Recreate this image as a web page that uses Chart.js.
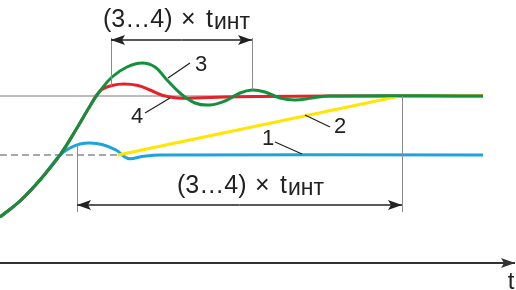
<!DOCTYPE html>
<html>
<head>
<meta charset="utf-8">
<script src="https://cdn.jsdelivr.net/npm/chart.js@4"></script>
<style>
    html, body { margin: 0; padding: 0; background: #fff; }
    #grafico { display: block; }
</style>
</head>
<body>
<canvas id="grafico" width="516" height="290"></canvas>
<script>
// Values: t (time) and output level, time axis at 0
const curva3 = [[0, 46], [20, 62], [40, 83], [60, 108], [77, 135], [90, 157], [100, 172], [112, 186],
    [127, 196], [142, 200], [155, 196], [167, 183], [180, 170], [195, 160], [210, 158], [225, 162],
    [240, 170], [252, 173], [265, 171], [280, 165], [295, 163], [312, 165], [330, 167], [483, 167]];
const curva4 = [[0, 46], [20, 62], [40, 83], [60, 108], [77, 135], [90, 157], [100, 172], [112, 177.5],
    [124, 179], [138, 177.5], [150, 173], [163, 167.5], [177, 165], [195, 165], [225, 166], [260, 166.5],
    [330, 167], [483, 167]];
const curva1 = [[0, 46], [20, 62], [40, 83], [60, 108], [70, 115], [80, 119], [90, 120], [102, 118.5],
    [116, 113], [128, 104.5], [142, 106.5], [160, 108], [483, 108]];
const curva2 = [[118, 108], [400, 167], [483, 167]];
const setpoint = [[0, 167], [483, 167]];
const nivelInicial = [[0, 108], [125, 108]];

const faixaSuperior = [111, 252];   // (3…4) × tинт, upper
const faixaInferior = [77, 402];    // (3…4) × tинт, lower

const FONTE = "'Liberation Sans', Arial, sans-serif";
const TINTA = '#222';

const pts = arr => arr.map(([x, y]) => ({ x, y }));

function seta(ctx, x1, y, x2, cab) {
    ctx.beginPath();
    ctx.moveTo(x1, y);
    ctx.lineTo(x2, y);
    ctx.stroke();
    const dir = Math.sign(x2 - x1);
    ctx.beginPath();
    ctx.moveTo(x2, y);
    ctx.lineTo(x2 - dir * cab, y - 5);
    ctx.lineTo(x2 - dir * (cab - 3), y);
    ctx.lineTo(x2 - dir * cab, y + 5);
    ctx.closePath();
    ctx.fill();
}

// "(3…4) × tинт", pieces placed apart like the original lettering
function rotulo(ctx, x, yBase) {
    ctx.textAlign = 'left';
    ctx.textBaseline = 'alphabetic';
    ctx.font = '25px ' + FONTE;
    ctx.fillText('(3…4)', x, yBase);
    ctx.fillText('×', x + 78, yBase);
    ctx.fillText('t', x + 103, yBase);
    ctx.font = '23px ' + FONTE;
    ctx.fillText('инт', x + 111, yBase + 2);
}

const anotacoes = {
    id: 'anotacoes',
    afterDatasetsDraw(chart) {
        const { ctx } = chart;
        const sx = v => chart.scales.x.getPixelForValue(v);
        const sy = v => chart.scales.y.getPixelForValue(v);
        ctx.save();

        // thin guide lines
        ctx.strokeStyle = '#8a8a8a';
        ctx.lineWidth = 1;
        [[77, 118, 51], [111, 225, 177], [252, 225, 173], [402, 167, 51]].forEach(([x, a, b]) => {
            ctx.beginPath();
            ctx.moveTo(Math.round(sx(x)) + 0.5, sy(a));
            ctx.lineTo(Math.round(sx(x)) + 0.5, sy(b));
            ctx.stroke();
        });

        // double arrows
        ctx.strokeStyle = TINTA;
        ctx.fillStyle = TINTA;
        ctx.lineWidth = 1.5;
        [[faixaSuperior, 223], [faixaInferior, 58]].forEach(([f, y]) => {
            const mid = (sx(f[0]) + sx(f[1])) / 2;
            seta(ctx, mid, sy(y), sx(f[0]), 14);
            seta(ctx, mid, sy(y), sx(f[1]), 14);
        });

        // time axis
        ctx.strokeStyle = '#333';
        ctx.fillStyle = '#333';
        ctx.lineWidth = 2;
        seta(ctx, sx(0), sy(0), sx(515), 14);

        // leader lines
        ctx.strokeStyle = TINTA;
        ctx.lineWidth = 1.3;
        [[168, 185, 190, 200], [145, 150, 170, 165], [305, 148, 330, 136], [275, 121, 302, 109]].forEach(([a, b, c, d]) => {
            ctx.beginPath();
            ctx.moveTo(sx(a), sy(b));
            ctx.lineTo(sx(c), sy(d));
            ctx.stroke();
        });

        // texts
        ctx.fillStyle = TINTA;
        ctx.font = '22px ' + FONTE;
        ctx.textAlign = 'center';
        ctx.textBaseline = 'middle';
        [['3', 201, 198], ['4', 137, 146], ['2', 340, 136], ['1', 268, 124]].forEach(([t, x, y]) => {
            ctx.fillText(t, sx(x), sy(y));
        });
        rotulo(ctx, sx(103), sy(236));
        rotulo(ctx, sx(177), sy(70));
        ctx.font = '24px ' + FONTE;
        ctx.textAlign = 'center';
        ctx.textBaseline = 'alphabetic';
        ctx.fillText('t', sx(511), sy(-26));

        ctx.restore();
    }
};

const linha = (dados, cor, largura, extra = {}) => Object.assign({
    data: pts(dados),
    borderColor: cor,
    borderWidth: largura,
    pointRadius: 0,
    fill: false,
    tension: 0.4
}, extra);

new Chart(document.getElementById('grafico'), {
    type: 'line',
    data: {
        datasets: [
            linha(curva3, '#12903c', 3),
            linha(curva2, '#ffe500', 3, { tension: 0 }),
            linha(curva4, '#e4222a', 3),
            linha(curva1, '#1ea3dc', 3),
            linha(setpoint, '#7a7a7a', 1, { tension: 0 }),
            linha(nivelInicial, '#8a8a8a', 1.3, { tension: 0, borderDash: [7, 4] })
        ]
    },
    options: {
        responsive: false,
        animation: false,
        layout: { padding: 0 },
        scales: {
            x: { type: 'linear', min: 0, max: 516, display: false },
            y: { min: -27, max: 263, display: false }
        },
        plugins: {
            legend: { display: false },
            tooltip: { enabled: false }
        }
    },
    plugins: [anotacoes]
});
</script>
</body>
</html>
